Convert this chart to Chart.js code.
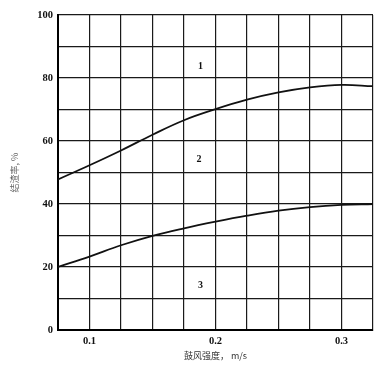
<!DOCTYPE html>
<html>
<head>
<meta charset="utf-8">
<script src="https://cdn.jsdelivr.net/npm/chart.js@4/dist/chart.umd.min.js"></script>
<style>
  html, body { margin: 0; padding: 0; background: #fff; }
  canvas { display: block; }
</style>
</head>
<body>
<canvas id="slagChart" width="389" height="372"></canvas>
<script>
// blast intensity, m/s
const blastSpeed = [0.075, 0.1, 0.125, 0.15, 0.175, 0.2, 0.225, 0.25, 0.275, 0.3, 0.325];
// upper boundary curve (between zone 1 and 2), %
const upperCurve = [47.8, 52.3, 57.0, 62.0, 66.6, 70.1, 73.1, 75.4, 77.0, 77.8, 77.4];
// lower boundary curve (between zone 2 and 3), %
const lowerCurve = [20.0, 23.3, 26.9, 29.9, 32.3, 34.4, 36.3, 37.9, 39.0, 39.7, 40.0];
// zone numbers placed in the chart
const zoneNames = ['1', '2', '3'];
const zoneX = [0.188, 0.187, 0.188];
const zoneY = [83.6, 54.0, 14.0];
// tick labels shown on the axes
const xTickLabels = [0.1, 0.2, 0.3];
const yTickLabels = [0, 20, 40, 60, 80, 100];

const toPoints = (ys) => ys.map((y, i) => ({ x: blastSpeed[i], y: y }));

// Draw the zone numbers through the scales
const zoneLabels = {
    id: 'zoneLabels',
    afterDatasetsDraw(chart) {
        const { ctx, scales } = chart;
        ctx.save();
        ctx.fillStyle = '#111';
        ctx.font = 'bold 10px "Liberation Serif"';
        ctx.textAlign = 'center';
        ctx.textBaseline = 'middle';
        zoneNames.forEach((name, i) => {
            ctx.fillText(name, scales.x.getPixelForValue(zoneX[i]), scales.y.getPixelForValue(zoneY[i]));
        });
        ctx.restore();
    }
};

const lineStyle = {
    borderColor: '#111',
    borderWidth: 1.8,
    pointRadius: 0,
    fill: false,
    tension: 0.4
};

const tickFont = { family: '"Liberation Serif"', size: 10.5, weight: 'bold' };
const gridStyle = { color: '#1a1a1a', lineWidth: 1.2, drawTicks: false };

new Chart(document.getElementById('slagChart'), {
    type: 'line',
    data: {
        datasets: [
            Object.assign({ data: toPoints(upperCurve) }, lineStyle),
            Object.assign({ data: toPoints(lowerCurve) }, lineStyle)
        ]
    },
    options: {
        responsive: false,
        animation: false,
        devicePixelRatio: 1,
        layout: { padding: { left: 0, right: 16, top: 15, bottom: 0 } },
        plugins: { legend: { display: false }, tooltip: { enabled: false } },
        scales: {
            x: {
                type: 'linear',
                min: 0.075,
                max: 0.325,
                grid: gridStyle,
                border: { display: true, color: '#000', width: 2 },
                ticks: {
                    stepSize: 0.025,
                    padding: 5,
                    maxRotation: 0,
                    autoSkip: false,
                    color: '#111',
                    font: tickFont,
                    callback: (v) => {
                        const hit = xTickLabels.find(t => Math.abs(t - v) < 1e-6);
                        return hit !== undefined ? hit.toFixed(1) : '';
                    }
                },
                title: {
                    display: true,
                    text: '鼓风强度， m/s',
                    color: '#333',
                    font: { family: '"Noto Sans CJK SC"', size: 9 },
                    padding: { top: 0, bottom: 11 }
                },
                afterFit: (scale) => { scale.height = 42; }
            },
            y: {
                min: 0,
                max: 100,
                grid: gridStyle,
                border: { display: true, color: '#000', width: 2 },
                ticks: {
                    stepSize: 10,
                    padding: 5,
                    autoSkip: false,
                    color: '#111',
                    font: tickFont,
                    callback: (v) => yTickLabels.includes(v) ? String(v) : ''
                },
                title: {
                    display: true,
                    text: '结渣率, %',
                    color: '#666',
                    font: { family: '"Noto Sans CJK SC"', size: 9 },
                    padding: { top: 9, bottom: 0 }
                },
                afterFit: (scale) => { scale.width = 58; }
            }
        }
    },
    plugins: [zoneLabels]
});
</script>
</body>
</html>
